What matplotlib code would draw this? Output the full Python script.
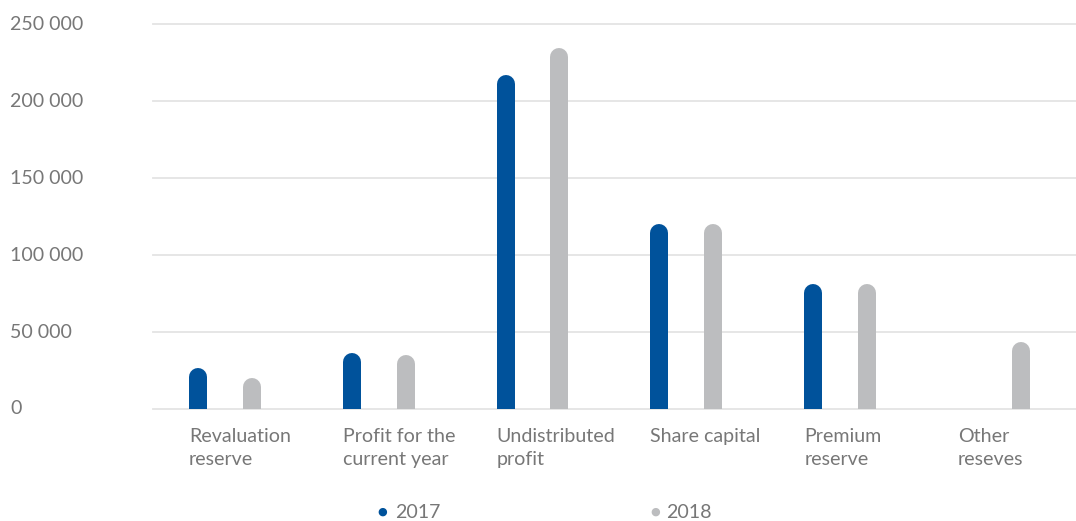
import numpy as np
import matplotlib
matplotlib.use("Agg")
import matplotlib.pyplot as plt
from matplotlib.transforms import blended_transform_factory

categories = ["Revaluation\nreserve", "Profit for the\ncurrent year", "Undistributed\nprofit",
              "Share capital", "Premium\nreserve", "Other\nreseves"]
vals_2017 = [26500, 36500, 217000, 120000, 81000, 0]
vals_2018 = [20000, 35000, 234500, 120000, 81000, 43500]
series_names = ["2017", "2018"]
yticks = [0, 50000, 100000, 150000, 200000, 250000]

blue = "#00529b"
grey = "#bcbdbf"
text_col = "#777777"
grid_col = "#e4e4e4"

plt.rcParams["font.family"] = ["Lato", "DejaVu Sans"]
fs = 14.1

W, H = 1076, 521
fig = plt.figure(figsize=(W / 100, H / 100), dpi=100)
ax_l, ax_r, ax_b, ax_t = 153, 1076, 409, 24
ax = fig.add_axes([ax_l / W, 1 - ax_b / H, (ax_r - ax_l) / W, (ax_b - ax_t) / H])
ymax = 250000
ax.set_xlim(0, len(categories))
ax.set_ylim(0, ymax)

for t in yticks:
    ax.axhline(t, color=grid_col, lw=1.3, zorder=0, clip_on=False)

# bars drawn as thick lines with round caps; the bottom cap is clipped at y=0
bar_px = 18
lw_pt = bar_px * 72 / 100
r_data = (bar_px / 2) / (ax_b - ax_t) * ymax
offsets = [0.292, 0.642]
for s, (vals, col) in enumerate([(vals_2017, blue), (vals_2018, grey)]):
    for i, v in enumerate(vals):
        if v <= 0:
            continue
        x = i + offsets[s]
        ax.plot([x, x], [-r_data * 2, v - r_data], color=col, lw=lw_pt,
                solid_capstyle="round", zorder=3)

for sp in ax.spines.values():
    sp.set_visible(False)
ax.set_xticks([])
ax.set_yticks([])

# y labels, left aligned at the figure edge
tr = blended_transform_factory(fig.transFigure, ax.transData)
for t in yticks:
    ax.text(10 / W, t, f"{t:,}".replace(",", " "), transform=tr, ha="left", va="center",
            fontsize=fs, color=text_col)

# category labels
trx = blended_transform_factory(ax.transData, fig.transFigure)
for i, c in enumerate(categories):
    ax.text(i + 0.233, 1 - 428 / H, c, transform=trx, ha="left", va="top",
            fontsize=fs, color=text_col, linespacing=1.45)

# legend
for name, col, xd, xt in [(series_names[0], blue, 382, 395), (series_names[1], grey, 655, 666)]:
    fig.text(xd / W, 1 - 512 / H, "\u25cf", color=col, fontsize=8, ha="center", va="center",
             family=["DejaVu Sans"])
    fig.text(xt / W, 1 - 512 / H, name, color=text_col, fontsize=fs, ha="left", va="center")

fig.savefig("out.png", dpi=100)
